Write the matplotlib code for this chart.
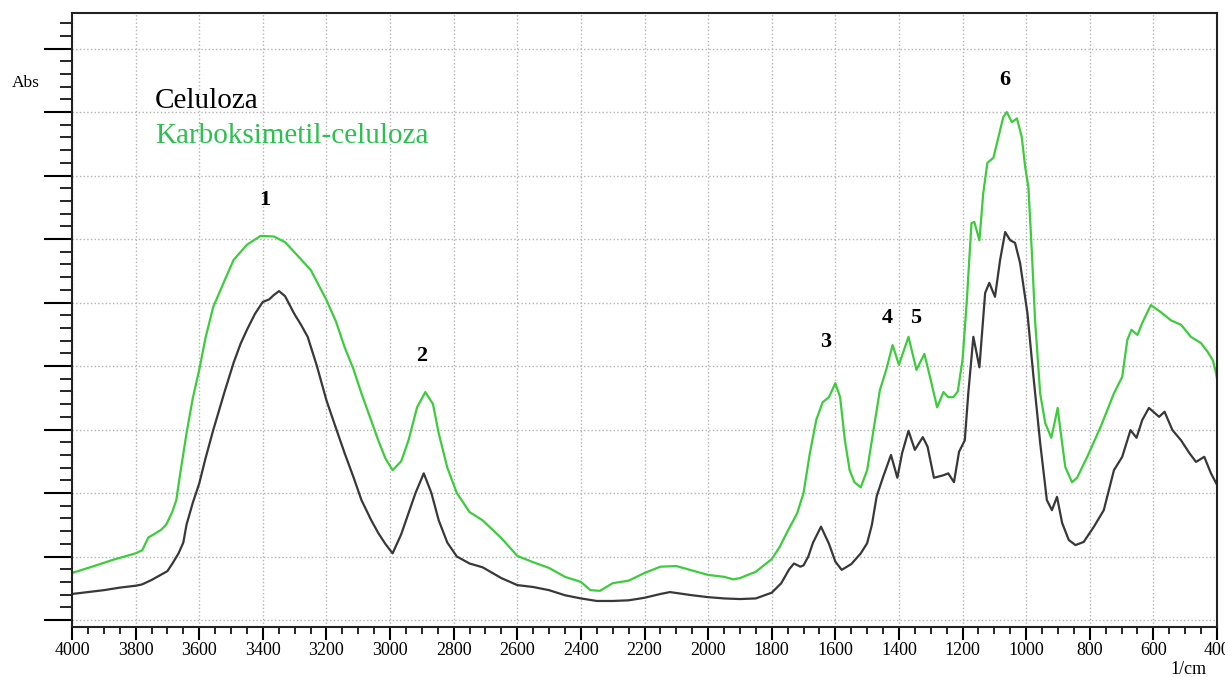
import numpy as np
import matplotlib
matplotlib.use("Agg")
import matplotlib.pyplot as plt
from matplotlib.ticker import MultipleLocator, NullFormatter

plt.rcParams['font.family'] = ['Liberation Serif', 'DejaVu Serif']

# celuloza (black)
cel_wn = [4000, 3950, 3900, 3850, 3800, 3780, 3750, 3725, 3700, 3683, 3665, 3650, 3640, 3620,
          3600, 3580, 3556, 3520, 3492, 3470, 3450, 3425, 3400, 3380, 3365, 3349, 3330, 3302,
          3280, 3259, 3230, 3200, 3170, 3143, 3115, 3090, 3060, 3037, 3015, 2992, 2965, 2942,
          2920, 2894, 2870, 2847, 2820, 2790, 2750, 2709, 2650, 2600, 2550, 2500, 2450, 2400,
          2350, 2300, 2250, 2200, 2150, 2120, 2050, 2000, 1950, 1900, 1850, 1800, 1770, 1745,
          1730, 1710, 1700, 1685, 1670, 1645, 1620, 1600, 1580, 1550, 1520, 1500, 1485, 1470,
          1450, 1425, 1405, 1390, 1370, 1350, 1325, 1310, 1290, 1260, 1245, 1227, 1211, 1193,
          1182, 1166, 1147, 1129, 1116, 1098, 1082, 1066, 1050, 1035, 1019, 996, 977, 956,
          935, 919, 903, 887, 866, 845, 819, 787, 756, 724, 698, 672, 653, 635, 614, 582,
          565, 540, 513, 487, 466, 440, 419, 400]
cel_abs = [0.41, 0.44, 0.47, 0.51, 0.54, 0.56, 0.63, 0.70, 0.77, 0.90, 1.05, 1.22, 1.50, 1.85,
           2.15, 2.55, 2.99, 3.60, 4.05, 4.35, 4.57, 4.82, 5.01, 5.05, 5.12, 5.18, 5.10, 4.83,
           4.65, 4.46, 4.00, 3.46, 3.02, 2.63, 2.25, 1.89, 1.58, 1.37, 1.20, 1.05, 1.35, 1.68,
           2.00, 2.31, 2.00, 1.57, 1.22, 1.00, 0.89, 0.83, 0.66, 0.55, 0.52, 0.47, 0.39, 0.34,
           0.30, 0.30, 0.31, 0.35, 0.41, 0.44, 0.39, 0.36, 0.34, 0.33, 0.34, 0.43, 0.58, 0.80,
           0.89, 0.84, 0.86, 1.00, 1.22, 1.47, 1.20, 0.92, 0.79, 0.88, 1.05, 1.21, 1.50, 1.95,
           2.25, 2.60, 2.24, 2.63, 2.98, 2.68, 2.88, 2.73, 2.24, 2.28, 2.31, 2.17, 2.65, 2.83,
           3.57, 4.46, 3.98, 5.15, 5.31, 5.09, 5.67, 6.11, 5.98, 5.94, 5.62, 4.83, 3.83, 2.79,
           1.89, 1.73, 1.94, 1.53, 1.26, 1.18, 1.23, 1.47, 1.73, 2.36, 2.57, 2.99, 2.87, 3.15,
           3.34, 3.20, 3.28, 2.99, 2.83, 2.63, 2.49, 2.57, 2.31, 2.13]

# karboksimetil-celuloza (green)
cmc_wn = [4000, 3937, 3870, 3800, 3779, 3760, 3746, 3720, 3704, 3685, 3672, 3660, 3640, 3620,
          3600, 3580, 3556, 3520, 3492, 3450, 3407, 3365, 3330, 3302, 3249, 3200, 3170, 3143,
          3115, 3090, 3060, 3037, 3015, 2992, 2965, 2942, 2915, 2889, 2865, 2847, 2820, 2790,
          2750, 2709, 2650, 2600, 2550, 2500, 2450, 2400, 2370, 2340, 2300, 2250, 2200, 2150,
          2100, 2050, 2000, 1950, 1920, 1900, 1850, 1800, 1775, 1750, 1720, 1700, 1680, 1660,
          1640, 1620, 1600, 1585, 1570, 1555, 1540, 1520, 1500, 1480, 1460, 1440, 1420, 1400,
          1370, 1345, 1320, 1300, 1280, 1260, 1245, 1229, 1215, 1200, 1187, 1172, 1163, 1147,
          1135, 1122, 1103, 1087, 1072, 1061, 1045, 1029, 1014, 1003, 993, 982, 972, 956,
          940, 921, 911, 901, 891, 877, 856, 840, 808, 766, 724, 698, 682, 669, 650, 635,
          608, 577, 545, 513, 482, 450, 429, 413, 403, 400]
cmc_abs = [0.74, 0.84, 0.95, 1.05, 1.10, 1.30, 1.34, 1.42, 1.50, 1.70, 1.89, 2.30, 2.94, 3.50,
           3.94, 4.45, 4.93, 5.35, 5.67, 5.91, 6.05, 6.04, 5.95, 5.80, 5.51, 5.04, 4.70, 4.30,
           3.95, 3.57, 3.15, 2.83, 2.55, 2.36, 2.50, 2.83, 3.35, 3.59, 3.40, 2.94, 2.40, 2.00,
           1.70, 1.57, 1.29, 1.01, 0.91, 0.82, 0.68, 0.60, 0.47, 0.46, 0.58, 0.62, 0.74, 0.84,
           0.85, 0.78, 0.71, 0.68, 0.64, 0.66, 0.76, 0.96, 1.15, 1.40, 1.68, 2.00, 2.63, 3.15,
           3.43, 3.51, 3.73, 3.51, 2.83, 2.36, 2.17, 2.09, 2.36, 2.99, 3.62, 3.94, 4.33, 4.02,
           4.46, 3.94, 4.19, 3.78, 3.35, 3.59, 3.51, 3.51, 3.60, 4.10, 5.00, 6.25, 6.27, 5.98,
           6.72, 7.20, 7.28, 7.61, 7.92, 8.00, 7.84, 7.90, 7.61, 7.13, 6.82, 5.78, 4.72, 3.57,
           3.10, 2.87, 3.10, 3.34, 2.94, 2.41, 2.17, 2.24, 2.57, 3.04, 3.57, 3.83, 4.41, 4.57,
           4.49, 4.68, 4.96, 4.85, 4.72, 4.65, 4.46, 4.36, 4.22, 4.09, 3.89, 3.80]

peak_labels = ['1', '2', '3', '4', '5', '6']
peak_wn = [3393, 2900, 1629, 1437, 1346, 1066]
peak_y = [6.61, 4.16, 4.38, 4.75, 4.75, 8.50]

fig = plt.figure(figsize=(12.25, 6.77), dpi=100)
ax = fig.add_axes([72 / 1225, 1 - 627 / 677, (1217 - 72) / 1225, (627 - 13) / 677])

ax.plot(cel_wn, cel_abs, color='#383838', lw=1.6)
ax.plot(cmc_wn, cmc_abs, color='#3ccc3c', lw=1.6)

ax.set_xlim(4000, 400)
ax.set_ylim(-0.11, 9.56)

ax.xaxis.set_major_locator(MultipleLocator(200))
ax.xaxis.set_minor_locator(MultipleLocator(50))
ax.yaxis.set_major_locator(MultipleLocator(1))
ax.yaxis.set_minor_locator(MultipleLocator(0.2))
ax.yaxis.set_major_formatter(NullFormatter())

ax.tick_params(axis='x', which='major', direction='out', length=9, width=1.5, labelsize=13, pad=2)
ax.tick_params(axis='x', which='minor', direction='out', length=5, width=1.2)
ax.tick_params(axis='y', which='major', direction='out', length=20, width=1.5)
ax.tick_params(axis='y', which='minor', direction='out', length=9, width=1.2)

ax.grid(True, which='major', color='#b4b4b4', linestyle=':', linewidth=1.0)
for s in ax.spines.values():
    s.set_linewidth(1.5)
    s.set_color('#222222')

for lab, xw, yv in zip(peak_labels, peak_wn, peak_y):
    ax.text(xw, yv, lab, ha='center', va='center', fontsize=16, fontweight='bold')

fig.text(155 / 1225, 1 - 101 / 677, 'Celuloza', fontsize=21, color='black', va='center')
fig.text(155 / 1225, 1 - 136 / 677, 'Karboksimetil-celuloza', fontsize=21, color='#2cc050', va='center')
fig.text(26 / 1225, 1 - 83 / 677, 'Abs', fontsize=12.5, ha='center', va='center')
fig.text(1188 / 1225, 1 - 669 / 677, '1/cm', fontsize=13, ha='center', va='center')

fig.savefig('out.png', dpi=100)
